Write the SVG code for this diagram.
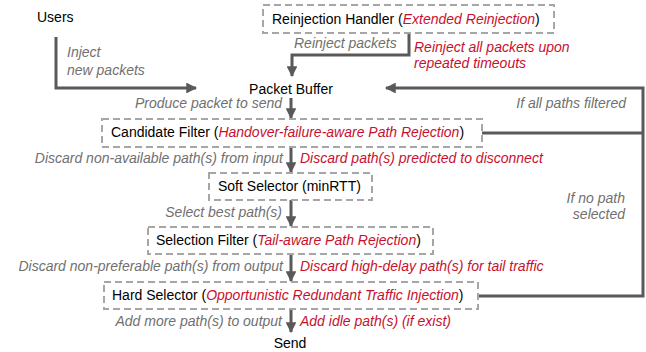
<svg xmlns="http://www.w3.org/2000/svg" width="646" height="352" viewBox="0 0 646 352">
  <style>
    text { font-family: "Liberation Sans", Arial, sans-serif; font-size: 14px; }
    .lbl { fill: #000; }
    .note { fill: #707070; font-style: italic; }
    .red { fill: #c8102e; font-style: italic; }
    .box { fill: none; stroke: #a6a6a6; stroke-width: 2; stroke-dasharray: 7 4; }
    .wire { fill: none; stroke: #595959; stroke-width: 3; }
  </style>
  <defs>
    <marker id="head" viewBox="0 0 10 10" refX="9" refY="5" markerWidth="3.6" markerHeight="3.6" orient="auto" markerUnits="strokeWidth">
      <path d="M0,0 L10,5 L0,10 z" fill="#595959"/>
    </marker>
  </defs>
  <rect width="646" height="352" fill="#fff"/>

  <g id="connectors">
    <path class="wire" d="M56,37 V88 H196" marker-end="url(#head)"/>
    <path class="wire" d="M409,33 V55 H292 V76" marker-end="url(#head)"/>
    <path class="wire" d="M291,98 V118" marker-end="url(#head)"/>
    <path class="wire" d="M291,147 V172" marker-end="url(#head)"/>
    <path class="wire" d="M291,200 V226" marker-end="url(#head)"/>
    <path class="wire" d="M291,254 V281" marker-end="url(#head)"/>
    <path class="wire" d="M291,309 V332" marker-end="url(#head)"/>
    <path class="wire" d="M478,296 H643 V88 H386" marker-end="url(#head)"/>
    <path class="wire" d="M482,133 H643"/>
    <text class="note" x="67" y="57">Inject</text>
    <text class="note" x="67" y="75">new packets</text>
    <text class="note" x="294" y="48">Reinject packets</text>
    <text class="red" x="414" y="52">Reinject all packets upon</text>
    <text class="red" x="414" y="68">repeated timeouts</text>
    <text class="note" x="282" y="108" text-anchor="end">Produce packet to send</text>
    <text class="note" x="626" y="108" text-anchor="end">If all paths filtered</text>
    <text class="note" x="283" y="163" text-anchor="end">Discard non-available path(s) from input</text>
    <text class="red" x="300" y="163">Discard path(s) predicted to disconnect</text>
    <text class="note" x="282" y="217" text-anchor="end">Select best path(s)</text>
    <text class="note" x="625" y="203" text-anchor="end">If no path</text>
    <text class="note" x="625" y="219" text-anchor="end">selected</text>
    <text class="note" x="283" y="271" text-anchor="end">Discard non-preferable path(s) from output</text>
    <text class="red" x="300" y="271">Discard high-delay path(s) for tail traffic</text>
    <text class="note" x="282" y="326" text-anchor="end">Add more path(s) to output</text>
    <text class="red" x="300" y="326">Add idle path(s) (if exist)</text>
  </g>

  <g id="users">
    <text class="lbl" x="37" y="22">Users</text>
  </g>
  <g id="reinjection-handler">
    <rect class="box" x="263" y="5" width="291" height="28"/>
    <text class="lbl" x="272" y="24">Reinjection Handler (<tspan class="red">Extended Reinjection</tspan>)</text>
  </g>
  <g id="packet-buffer">
    <text class="lbl" x="291" y="94" text-anchor="middle">Packet Buffer</text>
  </g>
  <g id="candidate-filter">
    <rect class="box" x="102" y="119" width="380" height="28"/>
    <text class="lbl" x="111" y="137">Candidate Filter (<tspan class="red">Handover-failure-aware Path Rejection</tspan>)</text>
  </g>
  <g id="soft-selector">
    <rect class="box" x="209" y="173" width="163" height="27"/>
    <text class="lbl" x="218" y="191">Soft Selector (minRTT)</text>
  </g>
  <g id="selection-filter">
    <rect class="box" x="148" y="227" width="285" height="27"/>
    <text class="lbl" x="156" y="245">Selection Filter (<tspan class="red">Tail-aware Path Rejection</tspan>)</text>
  </g>
  <g id="hard-selector">
    <rect class="box" x="104" y="282" width="374" height="27"/>
    <text class="lbl" x="112" y="300">Hard Selector (<tspan class="red">Opportunistic Redundant Traffic Injection</tspan>)</text>
  </g>
  <g id="send">
    <text class="lbl" x="290" y="348" text-anchor="middle">Send</text>
  </g>
</svg>
